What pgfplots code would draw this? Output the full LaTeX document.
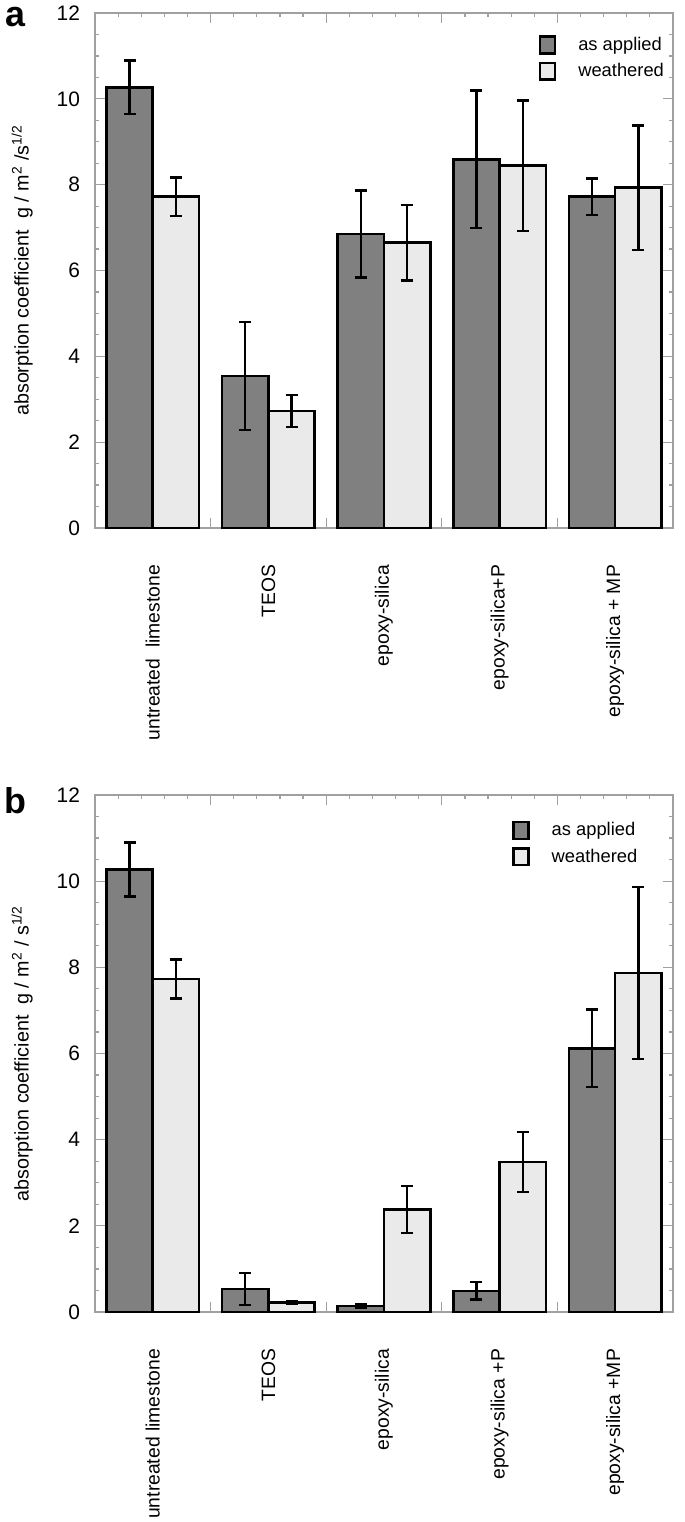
\documentclass[border=0pt]{standalone}
\usepackage{fontspec}
\setmainfont{Liberation Sans}
\usepackage{pgfplots}
\pgfplotsset{compat=1.18}
\definecolor{darkbar}{HTML}{808080}
\definecolor{lightbar}{HTML}{EAEAEA}
\definecolor{axisgray}{HTML}{A0A0A0}
\pgfplotsset{
  panel/.style={
    ybar, bar width=0.4,
    scale only axis, width=289bp,
    xmin=-0.5, xmax=4.5, ymin=0, ymax=12,
    ytick={0,2,...,12}, minor y tick num=3,
    xtick={-0.5,0.5,...,4.5}, xticklabels={},
    minor xtick={-0.3,-0.1,0.1,0.3,0.7,0.9,1.1,1.3,1.7,1.9,2.1,2.3,2.7,2.9,3.1,3.3,3.7,3.9,4.1,4.3},
    extra x ticks={0,1,2,3,4},
    extra x tick style={major tick length=0pt},
    xtick align=inside, ytick align=inside,
    major tick length=5bp, minor tick length=2bp,
    axis line style={axisgray, line width=0.8bp},
    tick style={axisgray, line width=0.6bp},
    /pgf/number format/assume math mode=true,
    yticklabel style={font=\fontsize{10.5}{12}\selectfont, xshift=-4bp},
    xticklabel style={rotate=90, anchor=east, font=\fontsize{9.7}{11}\selectfont},
    xticklabel shift=15bp,
    ylabel style={at={(axis description cs:-0.126,0.5)}, anchor=center,
      font=\fontsize{9.9}{11}\selectfont},
    clip=false,
    legend image code/.code={
      \draw[##1, line width=1.2bp] (0bp,-4.2bp) rectangle (7.5bp,4.2bp);},
    legend style={draw=none, fill=none, anchor=north west,
      font=\fontsize{9.2}{11}\selectfont, row sep=1bp,
      /tikz/every odd column/.append style={column sep=9bp}},
    legend cell align=left,
  },
  errs/.style={error bars/.cd, y dir=both, y explicit,
    error bar style={black, line width=1.2bp},
    error mark options={black, rotate=90, mark size=3bp, line width=1.2bp}},
  asapp/.style={fill=darkbar, draw=black, line width=1.3bp, bar shift=-0.2, errs},
  weath/.style={fill=lightbar, draw=black, line width=1.3bp, bar shift=0.2, errs},
}
\begin{document}
\begin{tikzpicture}
\useasboundingbox (-47.5bp,6.5bp) rectangle (295bp,-754.5bp);
% panel a
\begin{axis}[panel, at={(0,0)}, anchor=north west, height=257.5bp,
  extra x tick labels={untreated~~limestone, TEOS, epoxy-silica, epoxy-silica+P, epoxy-silica + MP},
  ylabel={absorption coefficient~~g / m\textsuperscript{2} /s\textsuperscript{1/2}},
  legend style={at={(0.757,0.970)}}]
\addplot[asapp] coordinates {
  (0,10.27) +- (0,0.62)
  (1,3.54) +- (0,1.26)
  (2,6.85) +- (0,1.01)
  (3,8.59) +- (0,1.60)
  (4,7.72) +- (0,0.42)
};
\addlegendentry{as applied}
\addplot[weath] coordinates {
  (0,7.72) +- (0,0.45)
  (1,2.73) +- (0,0.37)
  (2,6.65) +- (0,0.88)
  (3,8.44) +- (0,1.52)
  (4,7.93) +- (0,1.45)
};
\addlegendentry{weathered}
\node[anchor=base, font=\bfseries\fontsize{18}{20}\selectfont] at (rel axis cs:-0.138,0.973) {a};
\end{axis}
% panel b
\begin{axis}[panel, at={(0,-391bp)}, anchor=north west, height=258.5bp,
  extra x tick labels={untreated limestone, TEOS, epoxy-silica, epoxy-silica +P, epoxy-silica +MP},
  ylabel={absorption coefficient~~g / m\textsuperscript{2} / s\textsuperscript{1/2}},
  legend style={at={(0.711,0.963)}}]
\addplot[asapp] coordinates {
  (0,10.27) +- (0,0.63)
  (1,0.53) +- (0,0.37)
  (2,0.14) +- (0,0.04)
  (3,0.49) +- (0,0.20)
  (4,6.12) +- (0,0.90)
};
\addlegendentry{as applied}
\addplot[weath] coordinates {
  (0,7.73) +- (0,0.45)
  (1,0.22) +- (0,0.03)
  (2,2.38) +- (0,0.54)
  (3,3.48) +- (0,0.70)
  (4,7.87) +- (0,2.00)
};
\addlegendentry{weathered}
\node[anchor=base, font=\bfseries\fontsize{18}{20}\selectfont] at (rel axis cs:-0.138,0.965) {b};
\end{axis}
\end{tikzpicture}
\end{document}
